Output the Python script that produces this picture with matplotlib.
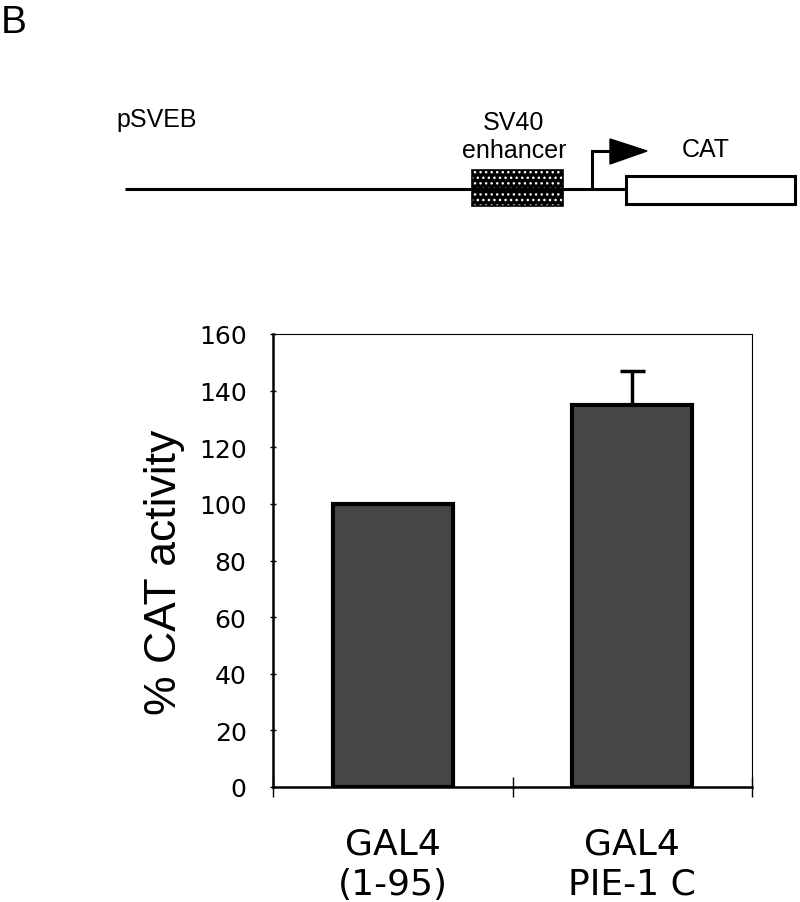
import matplotlib
matplotlib.use("Agg")
import matplotlib.pyplot as plt
import matplotlib.transforms as mtransforms
from matplotlib.patches import Rectangle, Polygon

plt.rcParams['font.family'] = ['Liberation Sans', 'DejaVu Sans']

categories = ["GAL4\n(1-95)", "GAL4\nPIE-1 C"]
values = [100, 135]
err_upper = [0, 12]
yticks = [0, 20, 40, 60, 80, 100, 120, 140, 160]

W, H = 800, 903
fig = plt.figure(figsize=(W / 100, H / 100), dpi=100)

# ---- diagram overlay (pixel coordinates, y downward) ----
dg = fig.add_axes([0, 0, 1, 1])
dg.set_xlim(0, W)
dg.set_ylim(H, 0)
dg.axis("off")

dg.text(1, 33, "B", fontsize=28, va="baseline", ha="left")
dg.text(116, 127, "pSVEB", fontsize=18, va="baseline", ha="left")
dg.text(514, 130, "SV40", fontsize=18, va="baseline", ha="center")
dg.text(514, 158, "enhancer", fontsize=18, va="baseline", ha="center")
dg.text(682, 157, "CAT", fontsize=18, va="baseline", ha="left")

# backbone line
dg.plot([125, 627], [190, 190], color="black", lw=2.2, solid_capstyle="butt")
# enhancer box (black with white dots)
dg.add_patch(Rectangle((472, 171), 91, 36, facecolor="black", edgecolor="white",
                       hatch="...", lw=0))
dg.add_patch(Rectangle((472, 171), 91, 36, facecolor="none", edgecolor="black", lw=1.2))
# promoter arrow
dg.plot([592, 592, 613], [190, 152, 152], color="black", lw=2.2, solid_joinstyle="miter")
dg.add_patch(Polygon([[610, 140], [610, 165], [647, 152]], closed=True,
                     facecolor="black", edgecolor="black"))
# CAT box
dg.add_patch(Rectangle((626, 177), 169, 28, facecolor="white", edgecolor="black", lw=2.2))

# ---- bar chart ----
left, right, top, bottom = 273, 752, 335, 788
ax = fig.add_axes([left / W, 1 - bottom / H, (right - left) / W, (bottom - top) / H])
x = list(range(len(categories)))
ax.bar(x, values, width=0.5, color="#474747", edgecolor="black", linewidth=3, zorder=3)
ax.errorbar(x, values, yerr=[[0] * len(values), err_upper], fmt="none",
            ecolor="black", elinewidth=2.5, capsize=9, capthick=2.5, zorder=2)

ax.set_xlim(-0.5, 1.5)
ax.set_ylim(0, 160)
ax.set_yticks(yticks)
ax.set_yticklabels([str(t) for t in yticks], fontsize=18, family="DejaVu Sans")
ax.tick_params(axis="y", direction="inout", length=4, width=1, pad=17)

ax.set_xticks([-0.5, 0.5, 1.5])
ax.set_xticklabels(["", "", ""])
ax.tick_params(axis="x", direction="inout", length=14, width=1)

# category labels: x from data, y in figure pixels
lab_tr = mtransforms.blended_transform_factory(ax.transData, dg.transData)
for xi, lab in zip(x, categories):
    l1, l2 = lab.split("\n")
    ax.text(xi, 855, l1, fontsize=26, ha="center", va="baseline",
            family="DejaVu Sans", transform=lab_tr)
    ax.text(xi, 895, l2, fontsize=26, ha="center", va="baseline",
            family="DejaVu Sans", transform=lab_tr)

ax.set_ylabel("% CAT activity", fontsize=32)
ax.yaxis.set_label_coords(-0.183, 0.477)

for s in ["left", "bottom"]:
    ax.spines[s].set_linewidth(1.8)
for s in ["top", "right"]:
    ax.spines[s].set_linewidth(0.8)

fig.savefig("out.png", dpi=100)
